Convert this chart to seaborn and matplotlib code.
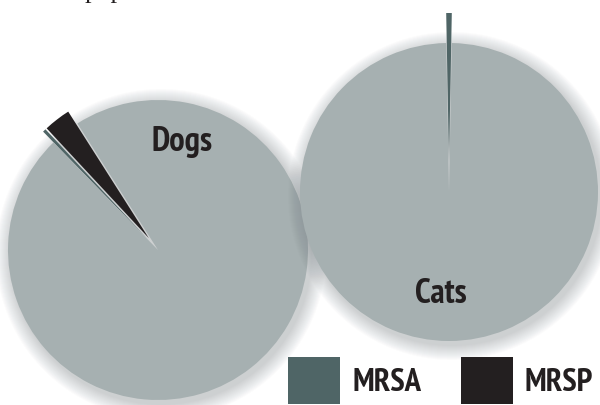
import matplotlib
matplotlib.use("Agg")
import matplotlib.pyplot as plt
import seaborn as sns
from matplotlib import font_manager as fm
from matplotlib.patches import Patch, Circle

# share of isolates (%), order: MRSP, MRSA, rest
groups = ["MRSP", "MRSA", "Other"]
dogs_pct = [2.9, 0.35, 96.75]
cats_pct = [0.0, 0.6, 99.4]
species = ["Dogs", "Cats"]
legend_labels = ["MRSA", "MRSP"]

colors = ["#231f20", "#4f6566", "#a6b0b1"]
ink = "#231f20"

sns.set_theme(style="white")
plt.rcParams['font.family'] = ['DejaVu Sans']

# look for a narrow bold face, the original uses a condensed grotesque
cand = []
for f in fm.fontManager.ttflist:
    fn = f.fname.lower()
    if ('narrow' in fn or 'condensed' in fn) and 'bold' in fn and 'italic' not in fn and 'oblique' not in fn:
        cand.append(f.fname)
cand.sort(key=lambda s: (0 if 'narrow' in s.lower() else 1, s))
if cand:
    bold_fp = fm.FontProperties(fname=cand[0])
else:
    bold_fp = fm.FontProperties(family='DejaVu Sans', weight='bold')

fig = plt.figure(figsize=(6, 4.05), dpi=100)
ax = fig.add_axes([0, 0, 1, 1])
renderer = fig.canvas.get_renderer()


def fit_size(txt, target_w, max_size):
    t = fig.text(0, 0, txt, fontproperties=bold_fp, fontsize=max_size)
    w = t.get_window_extent(renderer=renderer).width
    t.remove()
    return min(max_size, max_size * target_w / w)


# pie layout in pixel-like units (y up)
pies = [
    dict(vals=dogs_pct, center=(158, 155), r=150, start=122.5, expl=[15, 15, 0], z=2),
    dict(vals=cats_pct, center=(449, 213), r=149, start=90 - cats_pct[1] * 3.6 / 2, expl=[30, 30, 0], z=4),
]

for p in pies:
    # soft shadow round each pie
    for k in range(1, 16):
        ax.add_patch(Circle((p['center'][0] + 3, p['center'][1] - 4), p['r'] + k,
                            color="#6f787d", alpha=0.025, lw=0, zorder=p['z'] - 1))
    wedges, _ = ax.pie(p['vals'], colors=colors, center=p['center'], radius=p['r'],
                       startangle=p['start'], explode=p['expl'], counterclock=True,
                       wedgeprops=dict(linewidth=0))
    for w in wedges:
        w.set_zorder(p['z'])

ax.set_xlim(0, 600)
ax.set_ylim(0, 405)
ax.set_aspect('equal')
ax.axis('off')

lab_size = fit_size("Dogs", 61, 26)
ax.text(182, 263, species[0], ha='center', va='center', fontproperties=bold_fp,
        fontsize=lab_size, color=ink, zorder=10)
ax.text(441, 111, species[1], ha='center', va='center', fontproperties=bold_fp,
        fontsize=lab_size, color=ink, zorder=10)

# cut-off line of text at the top
ax.text(85, 407, "population", ha='left', va='baseline', fontsize=19,
        family=['Liberation Serif', 'DejaVu Serif'], color=ink)

# legend: big squares, partly cut at the bottom edge
leg_size = fit_size("MRSA", 69, 30)
fs_px = leg_size * 100 / 72
leg_fp = bold_fp.copy()
leg_fp.set_size(leg_size)
handles = [Patch(facecolor=colors[1], lw=0), Patch(facecolor=colors[0], lw=0)]
leg = ax.legend(handles, legend_labels, loc='upper left',
                bbox_to_anchor=(288, 405 - 357), bbox_transform=ax.transData,
                ncol=2, frameon=False, borderpad=0, borderaxespad=0,
                handlelength=52 / fs_px, handleheight=60 / fs_px,
                handletextpad=12 / fs_px, columnspacing=40 / fs_px,
                prop=leg_fp)
for t in leg.get_texts():
    t.set_color(ink)
leg.set_zorder(10)

fig.savefig("out.png", dpi=100)
